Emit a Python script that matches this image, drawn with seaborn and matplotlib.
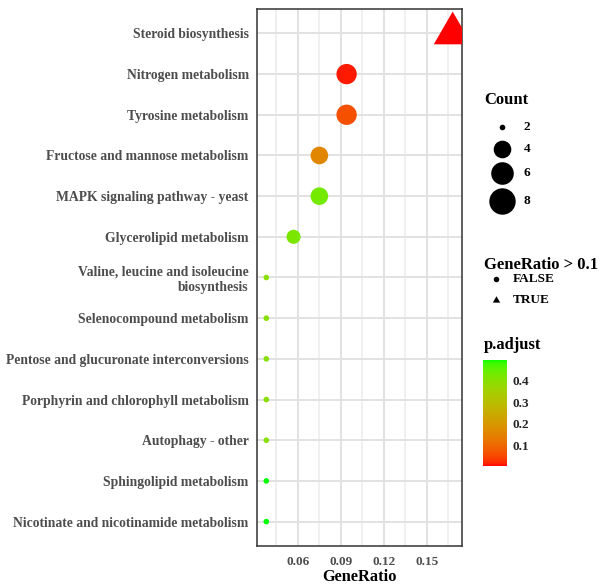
import numpy as np
import pandas as pd
import matplotlib
matplotlib.use("Agg")
import matplotlib.pyplot as plt
import seaborn as sns
from matplotlib.colors import ListedColormap, Normalize
from matplotlib.markers import MarkerStyle
from matplotlib.transforms import Affine2D
from matplotlib.cm import ScalarMappable

# ---- enrichment results (top to bottom) ----
descriptions = [
    "Steroid biosynthesis",
    "Nitrogen metabolism",
    "Tyrosine metabolism",
    "Fructose and mannose metabolism",
    "MAPK signaling pathway - yeast",
    "Glycerolipid metabolism",
    "Valine, leucine and isoleucine\nbiosynthesis",
    "Selenocompound metabolism",
    "Pentose and glucuronate interconversions",
    "Porphyrin and chlorophyll metabolism",
    "Autophagy - other",
    "Sphingolipid metabolism",
    "Nicotinate and nicotinamide metabolism",
]
gene_ratio = [0.168, 0.094, 0.094, 0.075, 0.075, 0.057,
              0.038, 0.038, 0.038, 0.038, 0.038, 0.038, 0.038]
counts = [9, 5, 5, 4, 4, 3, 2, 2, 2, 2, 2, 2, 2]
p_adjust = [0.004, 0.012, 0.06, 0.16, 0.43, 0.42,
            0.40, 0.40, 0.40, 0.40, 0.40, 0.497, 0.497]

x_ticks = [0.06, 0.09, 0.12, 0.15]
count_breaks = [2, 4, 6, 8]
padj_breaks = [0.1, 0.2, 0.3, 0.4]

df = pd.DataFrame({
    "Description": descriptions,
    "GeneRatio": gene_ratio,
    "Count": counts,
    "p.adjust": p_adjust,
})
df["GeneRatio > 0.1"] = df["GeneRatio"] > 0.1


# ---- red -> green gradient interpolated in CIE Lab ----
def srgb_to_lab(rgb):
    rgb = np.asarray(rgb, float)
    lin = np.where(rgb <= 0.04045, rgb / 12.92, ((rgb + 0.055) / 1.055) ** 2.4)
    m = np.array([[0.4124, 0.3576, 0.1805],
                  [0.2126, 0.7152, 0.0722],
                  [0.0193, 0.1192, 0.9505]])
    xyz = m @ lin / np.array([0.95047, 1.0, 1.08883])
    f = np.where(xyz > 0.008856, np.cbrt(xyz), 7.787 * xyz + 16 / 116)
    return np.array([116 * f[1] - 16, 500 * (f[0] - f[1]), 200 * (f[1] - f[2])])


def lab_to_srgb(lab):
    L, a, b = lab
    fy = (L + 16) / 116
    fx = fy + a / 500
    fz = fy - b / 200
    f = np.array([fx, fy, fz])
    xyz = np.where(f ** 3 > 0.008856, f ** 3, (f - 16 / 116) / 7.787)
    xyz = xyz * np.array([0.95047, 1.0, 1.08883])
    m_inv = np.array([[3.2406, -1.5372, -0.4986],
                      [-0.9689, 1.8758, 0.0415],
                      [0.0557, -0.2040, 1.0570]])
    lin = np.clip(m_inv @ xyz, 0, 1)
    rgb = np.where(lin <= 0.0031308, 12.92 * lin, 1.055 * lin ** (1 / 2.4) - 0.055)
    return np.clip(rgb, 0, 1)


lab_lo = srgb_to_lab([1, 0, 0])
lab_hi = srgb_to_lab([0, 1, 0])
grad = [lab_to_srgb(lab_lo + t * (lab_hi - lab_lo)) for t in np.linspace(0, 1, 256)]
cmap = ListedColormap(grad)
norm = Normalize(vmin=min(p_adjust), vmax=max(p_adjust))

# ---- point sizes: area scale on the diameter range ----
PX_PER_UNIT = 4.68
D_LO, D_HI = 1.2, 6.0
c_min, c_max = min(counts), max(counts)


def diameter_px(c):
    return PX_PER_UNIT * (D_LO + (D_HI - D_LO) * np.sqrt((c - c_min) / (c_max - c_min)))


def area_pt2(c):
    return (diameter_px(c) * 0.72) ** 2


size_map = {c: area_pt2(c) for c in sorted(set(counts))}

tri = MarkerStyle([(0, 1), (-0.866, -0.5), (0.866, -0.5)],
                  transform=Affine2D().scale(1.555))
marker_map = {False: "o", True: tri}

# ---- figure ----
W, H = 604, 584
fig = plt.figure(figsize=(W / 100, H / 100), dpi=100)
sns.set_style("white")
plt.rcParams["font.family"] = ["Liberation Serif", "DejaVu Serif"]
plt.rcParams["font.weight"] = "bold"

L, R, T, B = 257, 462, 9, 546
ax = fig.add_axes([L / W, 1 - B / H, (R - L) / W, (B - T) / H])

sns.scatterplot(
    data=df, x="GeneRatio", y="Description",
    hue="p.adjust", palette=cmap, hue_norm=norm,
    size="Count", sizes=size_map,
    style="GeneRatio > 0.1", markers=marker_map,
    linewidth=0, edgecolor="none", legend=False, ax=ax, zorder=3,
)

n = len(descriptions)
ax.set_ylim(n - 1 + 0.6, -0.6)
xr = max(gene_ratio) - min(gene_ratio)
ax.set_xlim(min(gene_ratio) - 0.05 * xr, max(gene_ratio) + 0.05 * xr)
ax.set_xticks(x_ticks)
ax.set_xticklabels([f"{v:.2f}" for v in x_ticks])
ax.set_xticks(np.arange(0.045, 0.18, 0.03), minor=True)
ax.set_yticks(range(n))
ax.set_yticklabels(descriptions)

ax.set_axisbelow(True)
ax.grid(which="major", color="#E2E2E2", linewidth=1.4)
ax.grid(which="minor", axis="x", color="#ECECEC", linewidth=1.1)
for s in ax.spines.values():
    s.set_visible(True)
    s.set_color("#333333")
    s.set_linewidth(1.1)

ax.tick_params(axis="both", which="major", length=3.5, width=1.1,
               color="#333333", labelcolor="#4D4D4D", labelsize=9.8, pad=2.5)
ax.tick_params(axis="x", which="minor", length=0)
ax.tick_params(axis="x", which="major", labelsize=9.5, pad=3.5)
for lab in ax.get_xticklabels() + ax.get_yticklabels():
    lab.set_fontweight("bold")
ax.set_ylabel("")
ax.set_xlabel("GeneRatio", fontsize=11.8, fontweight="bold", color="black", labelpad=1)

# ---- legends drawn in pixel coordinates ----
lg = fig.add_axes([0, 0, 1, 1], zorder=5)
lg.set_xlim(0, W)
lg.set_ylim(H, 0)
lg.axis("off")
lg.patch.set_alpha(0)

title_kw = dict(fontsize=12, fontweight="bold", color="black", va="center", ha="left")
label_kw = dict(fontsize=9.5, fontweight="bold", color="black", va="center", ha="left")

lg.text(484, 100, "Count", **title_kw)
for c, yy in zip(count_breaks, [126.5, 149, 172.5, 200.5]):
    lg.scatter([501.5], [yy], s=area_pt2(c), color="black", linewidth=0)
    lg.text(524, yy, str(c), **label_kw)

lg.text(484, 265, "GeneRatio > 0.1", **title_kw)
lg.scatter([495.5], [279], s=(5.5 * 0.72) ** 2, marker="o", color="black", linewidth=0)
lg.text(513, 279, "FALSE", **label_kw)
lg.scatter([495.5], [300], s=(5.5 * 0.72) ** 2, marker=tri, color="black", linewidth=0)
lg.text(513, 300, "TRUE", **label_kw)

lg.text(484, 345, "p.adjust", **title_kw)

cax = fig.add_axes([483 / W, 1 - 466 / H, 24 / W, 106 / H], zorder=6)
cb = fig.colorbar(ScalarMappable(norm=norm, cmap=cmap), cax=cax)
cb.outline.set_visible(False)
cb.set_ticks(padj_breaks)
cb.set_ticklabels([f"{v:.1f}" for v in padj_breaks])
cax.tick_params(axis="y", direction="in", length=4, width=0.8, color="white",
                left=True, right=True, labelsize=9.5, pad=4)
for lab in cax.get_yticklabels():
    lab.set_fontweight("bold")

fig.savefig("out.png", dpi=100)
